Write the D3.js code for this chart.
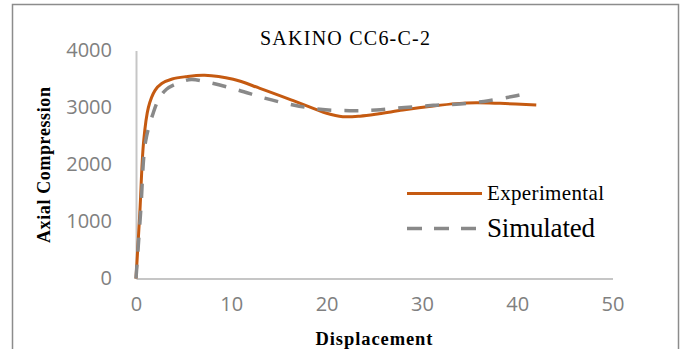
<!DOCTYPE html>
<html>
<head>
<meta charset="utf-8">
<script src="https://cdn.jsdelivr.net/npm/d3@7/dist/d3.min.js"></script>
<style>
  html, body { margin: 0; padding: 0; background: #fff; }
  svg { display: block; }
</style>
</head>
<body>
<svg id="chart" width="683" height="349"></svg>
<script>
// Load–displacement response of specimen SAKINO CC6-C-2
const chartTitle = "SAKINO CC6-C-2";
const xTitle = "Displacement";
const yTitle = "Axial Compression";
const seriesNames = ["Experimental", "Simulated"];

const xTicks = [0, 10, 20, 30, 40, 50];
const yTicks = [0, 1000, 2000, 3000, 4000];

const expDisp = [0, 0.4, 0.8, 1.3, 2.0, 2.7, 3.8, 5.2, 7.2, 10.2, 13.0, 16.5, 18.6, 20.0, 21.7, 23.5, 25.5, 28.0, 31.2, 33.6, 35.7, 38.2, 42.0];
const expLoad = [0, 1150, 2400, 3000, 3300, 3420, 3500, 3540, 3565, 3495, 3336, 3120, 2986, 2898, 2839, 2848, 2890, 2955, 3026, 3068, 3084, 3073, 3044];

const simDisp = [0, 0.5, 1.0, 1.8, 2.4, 3.2, 4.6, 5.8, 7.6, 10.7, 13.5, 16.5, 19.3, 22.4, 25.2, 28.2, 31.2, 34.0, 37.0, 39.9, 40.8];
const simLoad = [0, 1200, 2400, 2900, 3150, 3320, 3440, 3490, 3440, 3307, 3165, 3044, 2968, 2944, 2956, 3000, 3038, 3061, 3119, 3207, 3240];

const svg = d3.select("#chart");
const serif = "'Liberation Serif', 'Times New Roman', serif";
const sans = "'Open Sans', 'Liberation Sans', sans-serif";
const orange = "#C55A11";
const grey = "#898989";

// chart frame
svg.append("rect")
  .attr("x", 12.5).attr("y", 4.5)
  .attr("width", 666).attr("height", 360)
  .attr("fill", "#fff")
  .attr("stroke", "#8c8c8c").attr("stroke-width", 1.5);

const x = d3.scaleLinear().domain([0, 50]).range([136, 612.5]);
const y = d3.scaleLinear().domain([0, 4000]).range([278.5, 50.5]);

// axes
const xAxis = svg.append("g").attr("transform", `translate(0,${y(0)})`)
  .call(d3.axisBottom(x).tickValues(xTicks).tickFormat(d3.format("d")).tickSize(0).tickPadding(22));
const yAxis = svg.append("g").attr("transform", `translate(${x(0)},0)`)
  .call(d3.axisLeft(y).tickValues(yTicks).tickFormat(d3.format("d")).tickSize(0).tickPadding(24));

[xAxis, yAxis].forEach(g => {
  g.select(".domain").attr("stroke", "#c6c6c6").attr("stroke-width", 2);
  g.selectAll("text")
    .attr("fill", "#808080")
    .style("font-family", sans)
    .style("font-size", "20px");
});
xAxis.selectAll("text").attr("dy", "0.71em").attr("y", 18);

// data lines
const line = d3.line()
  .x(d => x(d[0]))
  .y(d => y(d[1]))
  .curve(d3.curveCatmullRom.alpha(0.5));

const expData = expDisp.map((d, i) => [d, expLoad[i]]);
const simData = simDisp.map((d, i) => [d, simLoad[i]]);

svg.append("path")
  .datum(expData)
  .attr("d", line)
  .attr("fill", "none")
  .attr("stroke", orange)
  .attr("stroke-width", 3);

svg.append("path")
  .datum(simData)
  .attr("d", line)
  .attr("fill", "none")
  .attr("stroke", grey)
  .attr("stroke-width", 3.5)
  .attr("stroke-dasharray", "14,13");

// titles
svg.append("text")
  .attr("x", 345).attr("y", 45)
  .attr("text-anchor", "middle")
  .attr("textLength", 170)
  .style("font-family", serif)
  .style("font-size", "20px")
  .attr("fill", "#000")
  .text(chartTitle);

svg.append("text")
  .attr("x", 374).attr("y", 345)
  .attr("text-anchor", "middle")
  .attr("textLength", 117)
  .style("font-family", serif)
  .style("font-size", "18.5px")
  .style("font-weight", "bold")
  .text(xTitle);

svg.append("text")
  .attr("transform", "translate(50,165) rotate(-90)")
  .attr("text-anchor", "middle")
  .attr("textLength", 156)
  .style("font-family", serif)
  .style("font-size", "18px")
  .style("font-weight", "bold")
  .text(yTitle);

// legend
const legend = svg.append("g");
legend.append("line")
  .attr("x1", 407).attr("x2", 482)
  .attr("y1", 193.5).attr("y2", 193.5)
  .attr("stroke", orange).attr("stroke-width", 3);
legend.append("text")
  .attr("x", 487).attr("y", 200)
  .attr("textLength", 117)
  .style("font-family", serif)
  .style("font-size", "21px")
  .text(seriesNames[0]);

legend.append("line")
  .attr("x1", 407).attr("x2", 481)
  .attr("y1", 228.5).attr("y2", 228.5)
  .attr("stroke", grey).attr("stroke-width", 3.5)
  .attr("stroke-dasharray", "15,12");
legend.append("text")
  .attr("x", 487).attr("y", 237)
  .attr("textLength", 108)
  .style("font-family", serif)
  .style("font-size", "27px")
  .text(seriesNames[1]);
</script>
</body>
</html>
